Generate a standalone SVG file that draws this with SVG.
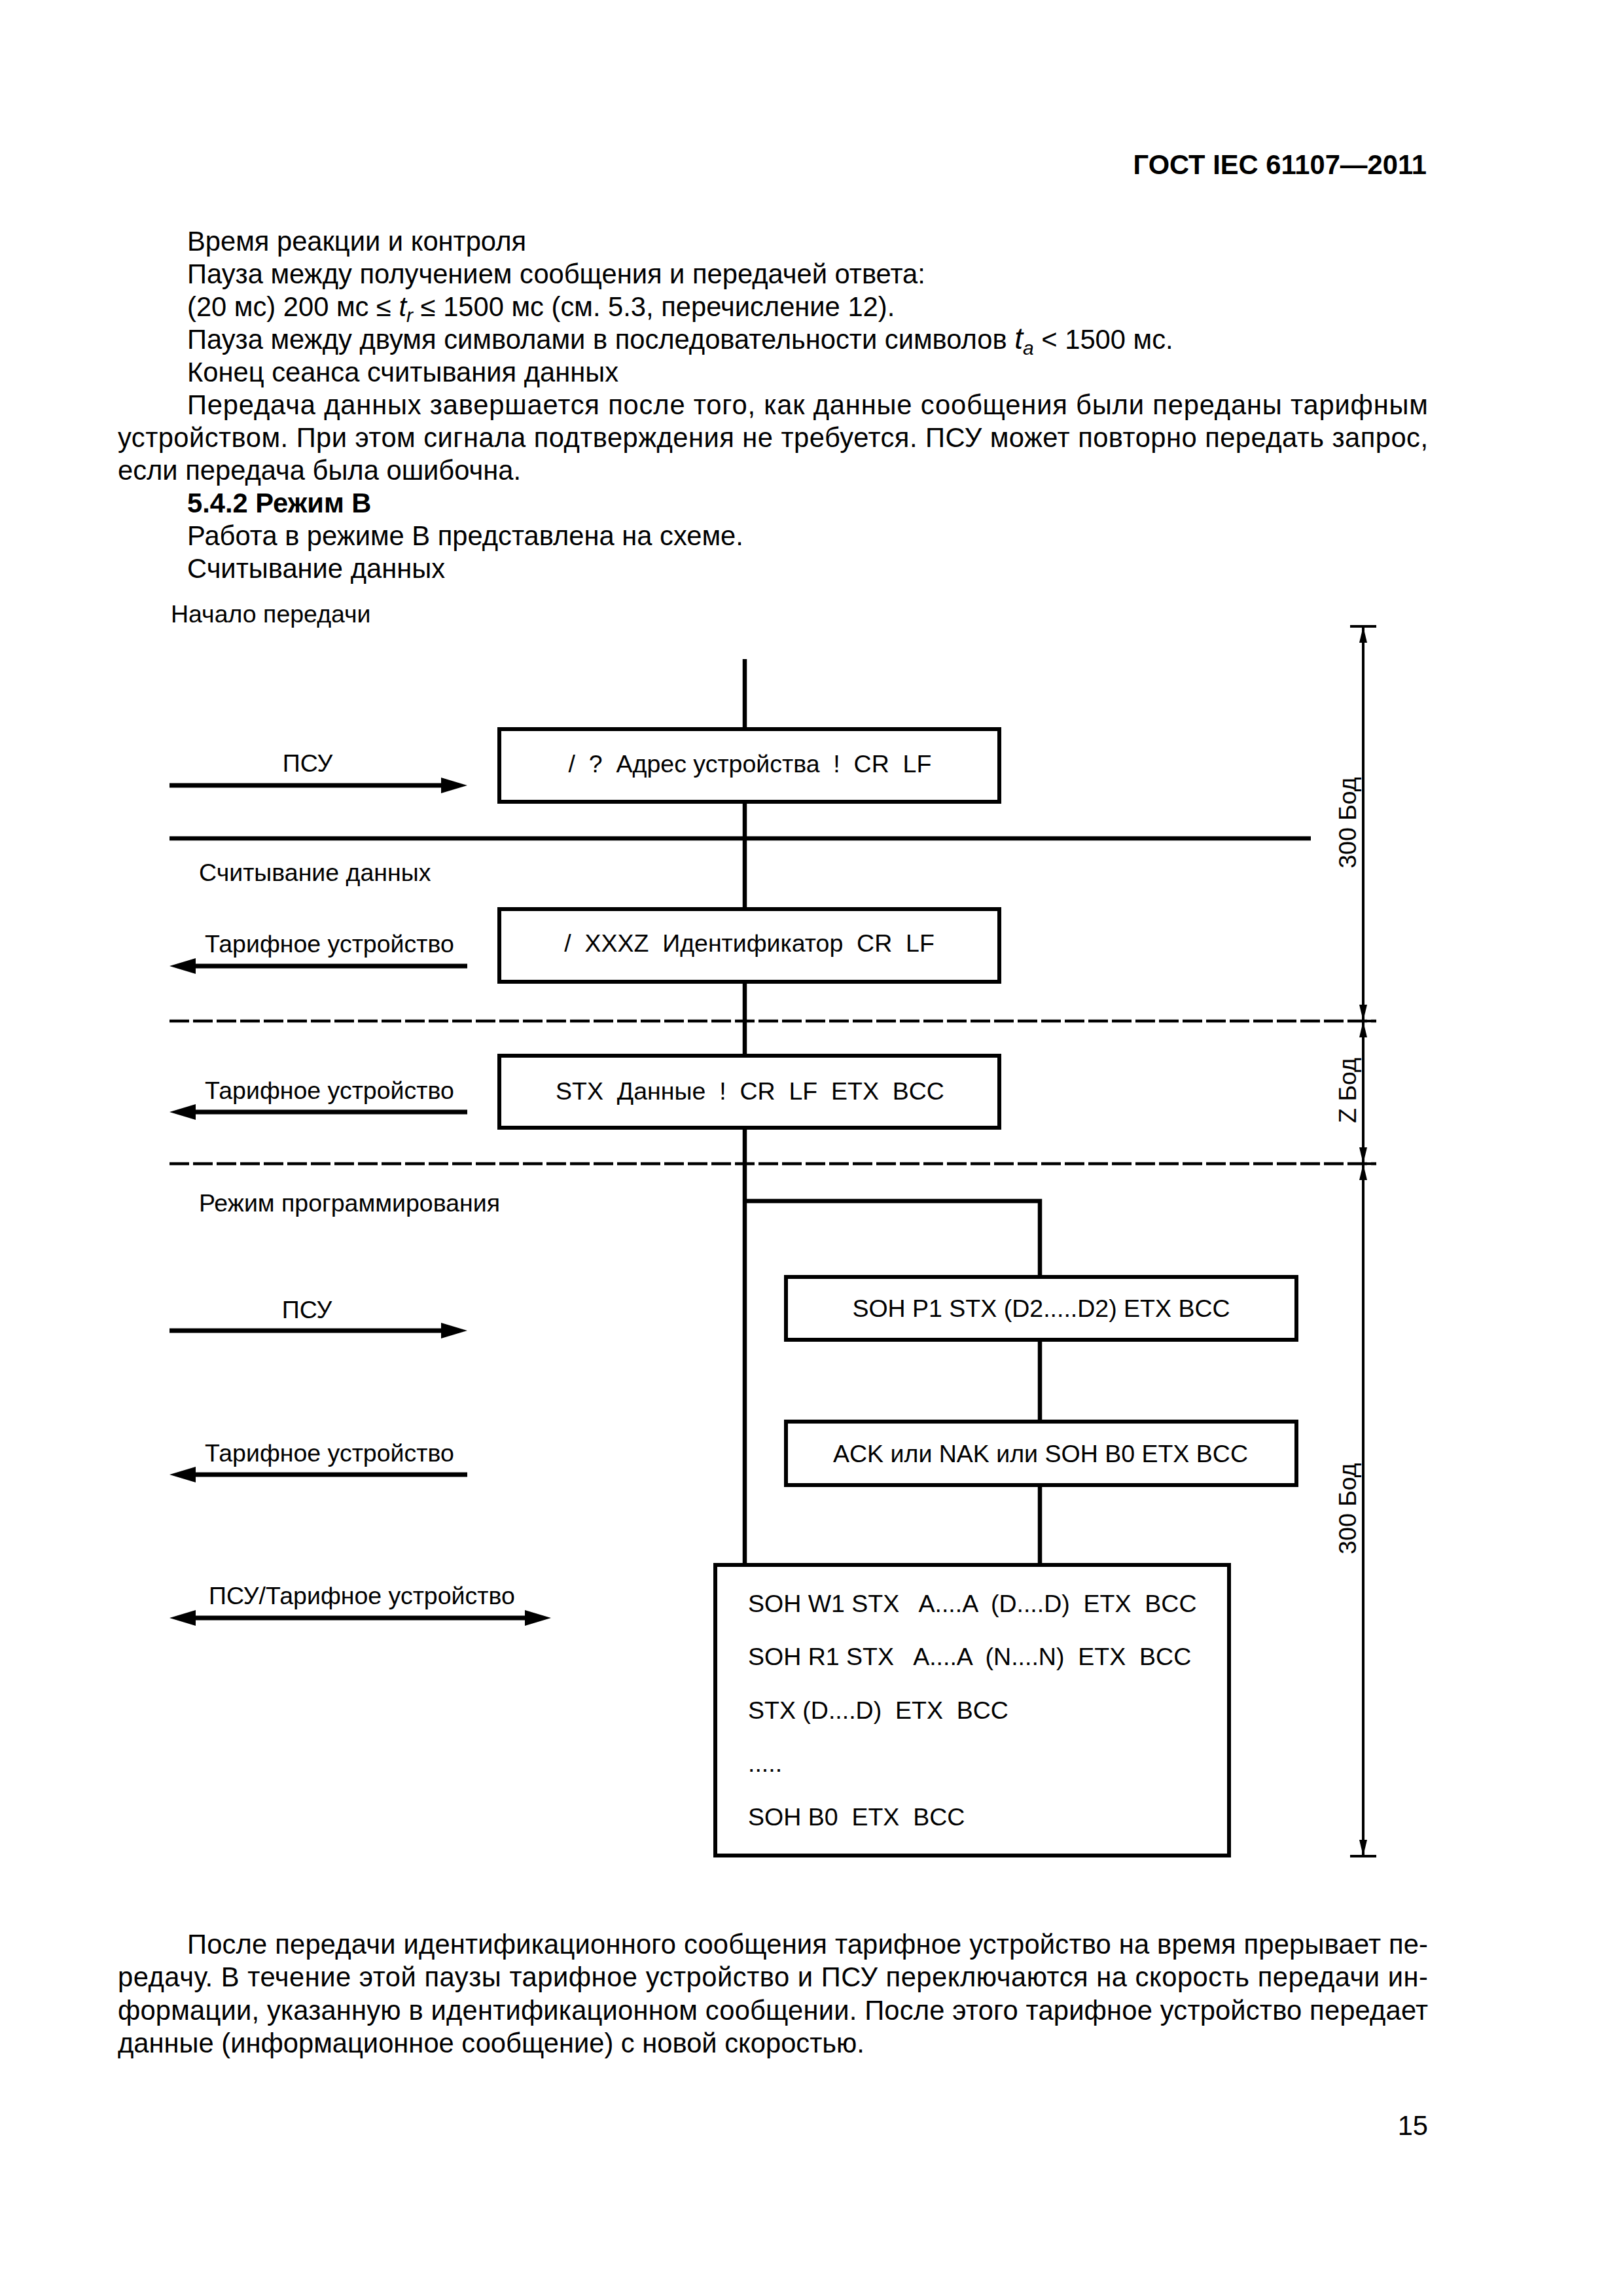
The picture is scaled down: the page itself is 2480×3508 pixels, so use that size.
<svg xmlns="http://www.w3.org/2000/svg" width="2480" height="3508" viewBox="0 0 2480 3508">
<style>
text{font-family:"Liberation Sans",Arial,sans-serif;fill:#000}
.body{font-size:41.7px}
.hdr{font-size:41.7px;font-weight:bold}
.lbl{font-size:37.5px}
.box{fill:#fff;stroke:#000;stroke-width:6}
.ln{stroke:#000;stroke-width:6.5;fill:none}
.arr{stroke:#000;stroke-width:7;fill:none}
.dash{stroke:#000;stroke-width:4.5;stroke-dasharray:30 6;fill:none}
.dim{stroke:#000;stroke-width:4;fill:none}
.it{font-style:italic}
</style>
<defs>
<marker id="ah" markerUnits="userSpaceOnUse" markerWidth="40" markerHeight="24" refX="0" refY="12" orient="auto-start-reverse"><path d="M0,0 L40,12 L0,24 z" fill="#000"/></marker>
<marker id="dh" markerUnits="userSpaceOnUse" markerWidth="25" markerHeight="12" refX="25" refY="6" orient="auto-start-reverse"><path d="M0,0 L25,6 L0,12 z" fill="#000"/></marker>
</defs>
<rect width="2480" height="3508" fill="#fff"/>

<g id="page-text">
<text class="hdr" x="2180" y="266" text-anchor="end">ГОСТ IEC 61107—2011</text>
<text class="body" x="286" y="383">Время реакции и контроля</text>
<text class="body" x="286" y="433">Пауза между получением сообщения и передачей ответа:</text>
<text class="body" x="286" y="483">(20 мс) 200 мс ≤ <tspan class="it">t</tspan><tspan class="it" font-size="30" dy="9">r</tspan><tspan dy="-9"> ≤ 1500 мс (см. 5.3, перечисление 12).</tspan></text>
<text class="body" x="286" y="533">Пауза между двумя символами в последовательности символов <tspan class="it" font-size="46">t</tspan><tspan class="it" font-size="30" dy="9">a</tspan><tspan dy="-9"> &lt; 1500 мс.</tspan></text>
<text class="body" x="286" y="583">Конец сеанса считывания данных</text>
<text class="body" x="286" y="633" textLength="1896" lengthAdjust="spacing">Передача данных завершается после того, как данные сообщения были переданы тарифным</text>
<text class="body" x="180" y="683" textLength="2002" lengthAdjust="spacing">устройством. При этом сигнала подтверждения не требуется. ПСУ может повторно передать запрос,</text>
<text class="body" x="180" y="733">если передача была ошибочна.</text>
<text class="hdr" x="286" y="783">5.4.2 Режим В</text>
<text class="body" x="286" y="833">Работа в режиме В представлена на схеме.</text>
<text class="body" x="286" y="883">Считывание данных</text>
<text class="body" x="286" y="2985" textLength="1896" lengthAdjust="spacing">После передачи идентификационного сообщения тарифное устройство на время прерывает пе-</text>
<text class="body" x="180" y="3035" textLength="2002" lengthAdjust="spacing">редачу. В течение этой паузы тарифное устройство и ПСУ переключаются на скорость передачи ин-</text>
<text class="body" x="180" y="3086" textLength="2002" lengthAdjust="spacing">формации, указанную в идентификационном сообщении. После этого тарифное устройство передает</text>
<text class="body" x="180" y="3136">данные (информационное сообщение) с новой скоростью.</text>
<text class="body" x="2182" y="3262" text-anchor="end">15</text>
</g>

<g id="connectors">
<line class="ln" x1="1138" y1="1007" x2="1138" y2="2391"/>
<polyline class="ln" points="1138,1835 1589,1835 1589,2391"/>
<line class="ln" x1="259" y1="1281" x2="2003" y2="1281"/>
<line class="dash" x1="259" y1="1560" x2="2103" y2="1560"/>
<line class="dash" x1="259" y1="1778" x2="2103" y2="1778"/>
<line class="arr" x1="259" y1="1200" x2="674" y2="1200" marker-end="url(#ah)"/>
<line class="arr" x1="714" y1="1476" x2="299" y2="1476" marker-end="url(#ah)"/>
<line class="arr" x1="714" y1="1699" x2="299" y2="1699" marker-end="url(#ah)"/>
<line class="arr" x1="259" y1="2033" x2="674" y2="2033" marker-end="url(#ah)"/>
<line class="arr" x1="714" y1="2253" x2="299" y2="2253" marker-end="url(#ah)"/>
<line class="arr" x1="299" y1="2472" x2="802" y2="2472" marker-start="url(#ah)" marker-end="url(#ah)"/>
</g>

<g id="dimensions">
<line class="dim" x1="2063" y1="957" x2="2103" y2="957"/>
<line class="dim" x1="2063" y1="2836" x2="2103" y2="2836"/>
<line class="dim" x1="2063" y1="1560" x2="2103" y2="1560"/>
<line class="dim" x1="2063" y1="1778" x2="2103" y2="1778"/>
<line class="dim" x1="2083" y1="957" x2="2083" y2="1560" marker-start="url(#dh)" marker-end="url(#dh)"/>
<line class="dim" x1="2083" y1="1560" x2="2083" y2="1778" marker-start="url(#dh)" marker-end="url(#dh)"/>
<line class="dim" x1="2083" y1="1778" x2="2083" y2="2836" marker-start="url(#dh)" marker-end="url(#dh)"/>
<text class="lbl" font-size="38" x="2072" y="1257" text-anchor="middle" transform="rotate(-90 2072 1257)">300 Бод</text>
<text class="lbl" font-size="38" x="2072" y="1666" text-anchor="middle" transform="rotate(-90 2072 1666)">Z Бод</text>
<text class="lbl" font-size="38" x="2072" y="2305" text-anchor="middle" transform="rotate(-90 2072 2305)">300 Бод</text>
</g>

<g id="labels">
<text class="lbl" x="261" y="951">Начало передачи</text>
<text class="lbl" x="470" y="1179" text-anchor="middle">ПСУ</text>
<text class="lbl" x="304" y="1346">Считывание данных</text>
<text class="lbl" x="313" y="1455">Тарифное устройство</text>
<text class="lbl" x="313" y="1679">Тарифное устройство</text>
<text class="lbl" x="304" y="1851">Режим программирования</text>
<text class="lbl" x="469" y="2014" text-anchor="middle">ПСУ</text>
<text class="lbl" x="313" y="2233">Тарифное устройство</text>
<text class="lbl" x="319" y="2451">ПСУ/Тарифное устройство</text>
</g>

<g id="box-request">
<rect class="box" x="763" y="1114" width="764" height="111"/>
<text class="lbl" x="1146" y="1180" text-anchor="middle" xml:space="preserve">/  ?  Адрес устройства  !  CR  LF</text>
</g>
<g id="box-ident">
<rect class="box" x="763" y="1389" width="764" height="111"/>
<text class="lbl" x="1145" y="1454" text-anchor="middle" xml:space="preserve">/  XXXZ  Идентификатор  CR  LF</text>
</g>
<g id="box-data">
<rect class="box" x="763" y="1613" width="764" height="110"/>
<text class="lbl" x="1146" y="1680" text-anchor="middle" xml:space="preserve">STX  Данные  !  CR  LF  ETX  BCC</text>
</g>
<g id="box-p1">
<rect class="box" x="1201" y="1951" width="780" height="96"/>
<text class="lbl" x="1591" y="2012" text-anchor="middle">SOH P1 STX (D2.....D2) ETX BCC</text>
</g>
<g id="box-ack">
<rect class="box" x="1201" y="2172" width="780" height="97"/>
<text class="lbl" x="1590" y="2234" text-anchor="middle">ACK или NAK или SOH B0 ETX BCC</text>
</g>
<g id="box-prog">
<rect class="box" x="1093" y="2391" width="785" height="444"/>
<text class="lbl" x="1143" y="2463" xml:space="preserve">SOH W1 STX   A....A  (D....D)  ETX  BCC</text>
<text class="lbl" x="1143" y="2544" xml:space="preserve">SOH R1 STX   A....A  (N....N)  ETX  BCC</text>
<text class="lbl" x="1143" y="2626" xml:space="preserve">STX (D....D)  ETX  BCC</text>
<text class="lbl" x="1143" y="2707">.....</text>
<text class="lbl" x="1143" y="2789" xml:space="preserve">SOH B0  ETX  BCC</text>
</g>
</svg>
